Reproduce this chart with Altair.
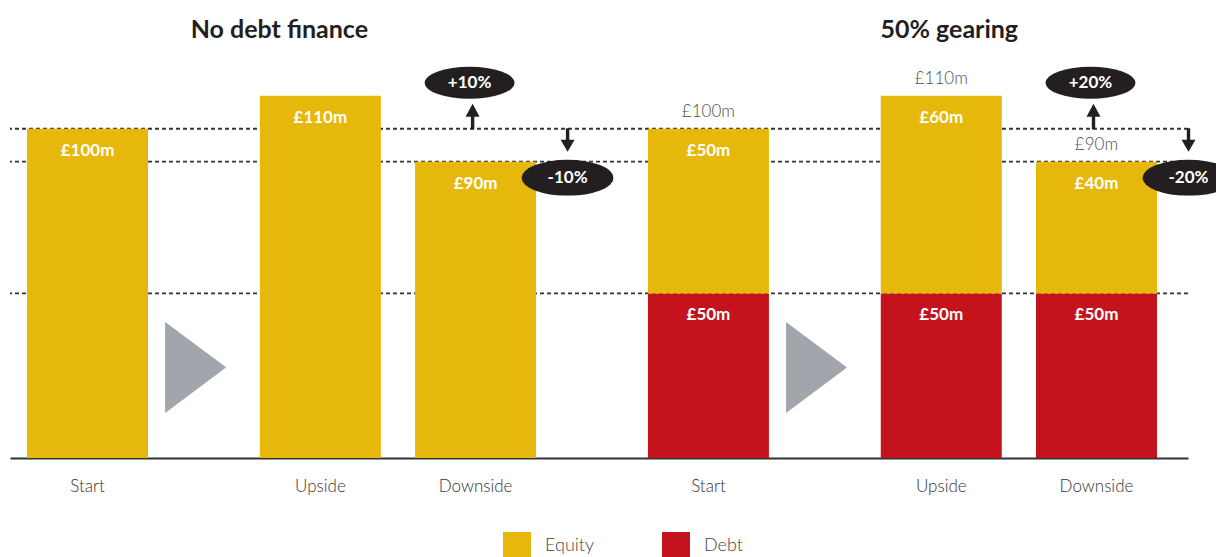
import base64
import altair as alt
import pandas as pd

# ---------------- data ----------------
groups = ["No debt finance", "50% gearing"]
scenarios = ["Start", "Upside", "Downside"]
equity_nodebt = [100, 110, 90]
debt_nodebt = [0, 0, 0]
equity_geared = [50, 60, 40]
debt_geared = [50, 50, 50]
components = ["Equity", "Debt"]
colors = ["#E5B80B", "#C4131C"]

# category slots along the x axis (gap slots hold the arrows / spacing)
slots = ["No debt finance|Start", "gap1", "gap2", "No debt finance|Upside", "gap3",
         "No debt finance|Downside", "gap4", "gap5", "50% gearing|Start", "gap6",
         "gap7", "50% gearing|Upside", "gap8", "50% gearing|Downside"]
arrow_slots = ["gap1", "gap6"]

series = {groups[0]: (equity_nodebt, debt_nodebt), groups[1]: (equity_geared, debt_geared)}

rows, totals, summary = [], [], []
for g in groups:
    eq, de = series[g]
    tot = [e + d for e, d in zip(eq, de)]
    for s, e, d, t in zip(scenarios, eq, de, tot):
        key = f"{g}|{s}"
        rows.append(dict(key=key, group=g, component="Debt", value=d, order=0, label=f"£{d}m"))
        rows.append(dict(key=key, group=g, component="Equity", value=e, order=1, label=f"£{e}m"))
        totals.append(dict(key=key, group=g, total=t, label=f"£{t}m", geared=int(de[0] > 0)))
    summary.append(dict(group=g, key=f"{g}|Downside", level=tot[0],
                        up=f"+{round((eq[1] - eq[0]) / eq[0] * 100)}%",
                        down=f"-{round((eq[0] - eq[2]) / eq[0] * 100)}%"))

df = pd.DataFrame(rows)
tot_df = pd.DataFrame(totals)
sum_df = pd.DataFrame(summary)
levels = sorted({int(tot_df.total[0]), int(tot_df.total[2]), debt_geared[0]})
lev_df = pd.DataFrame({"level": levels})
tri_df = pd.DataFrame({"key": arrow_slots})
title_df = pd.DataFrame({"key": [f"{g}|Upside" for g in groups], "group": groups})

FONT = "Lato"
DARK = "#231F20"


def svg_uri(svg):
    return "data:image/svg+xml;base64," + base64.b64encode(svg.encode("utf-8")).decode("ascii")


# decorative glyphs (arrows, bubbles, grey "play" triangle)
BADGE_W, BADGE_H = 276, 134
BADGE = svg_uri(
    f"<svg xmlns='http://www.w3.org/2000/svg' width='{BADGE_W}' height='{BADGE_H}' "
    f"viewBox='0 0 {BADGE_W} {BADGE_H}'><g fill='{DARK}' transform='translate(138,67)'>"
    "<ellipse cx='-6' cy='-46' rx='45' ry='16'/>"
    "<rect x='-4.7' y='-13' width='3.4' height='13.5'/>"
    "<polygon points='-10,-12 4,-12 -3,-25'/>"
    "<ellipse cx='92' cy='49' rx='46' ry='18'/>"
    "<rect x='90.3' y='-0.5' width='3.4' height='12.5'/>"
    "<polygon points='85,11 99,11 92,23'/>"
    "</g></svg>")
TRI_W, TRI_H = 61, 91
TRI = svg_uri(
    f"<svg xmlns='http://www.w3.org/2000/svg' width='{2 * TRI_W}' height='{TRI_H}' "
    f"viewBox='0 0 {2 * TRI_W} {TRI_H}'><polygon points='{TRI_W},0 {2 * TRI_W},{TRI_H / 2} "
    f"{TRI_W},{TRI_H}' fill='#A0A6AB'/></svg>")

xscale = alt.Scale(domain=slots, paddingInner=0, paddingOuter=0.589, align=0.4236, round=False)
X = alt.X("key:N", scale=xscale,
          axis=alt.Axis(title=None, ticks=False, grid=False, labelAngle=0, labelOverlap=False,
                        labelExpr="indexof(datum.value, '|') >= 0 ? split(datum.value, '|')[1] : ''",
                        domainColor="#333333", domainWidth=2, labelFontSize=17,
                        labelColor="#333333", labelFont=FONT, labelFontWeight=300,
                        labelPadding=20))
yscale = alt.Scale(domain=[0, 130], nice=False, zero=True)

rules = alt.Chart(lev_df).mark_rule(color="#333333", strokeDash=[4, 3], strokeWidth=1.8).encode(
    y=alt.Y("level:Q", scale=yscale, axis=None))

stacked = alt.Chart(df).transform_stack(
    stack="value", as_=["y0", "y1"], groupby=["key"],
    sort=[alt.SortField("order", order="ascending")])

bars = stacked.mark_bar(width=alt.RelativeBandSize(1.559)).encode(
    x=X,
    y=alt.Y("y0:Q", scale=yscale, axis=None),
    y2="y1:Q",
    color=alt.Color("component:N", scale=alt.Scale(domain=components, range=colors),
                    legend=alt.Legend(title=None, orient="none", legendX=493, legendY=502,
                                      direction="horizontal", symbolType="square",
                                      symbolSize=784, symbolStrokeWidth=0, symbolOpacity=1,
                                      labelFontSize=18, labelColor="#444444", labelFont=FONT,
                                      labelFontWeight=300, labelOffset=14, columnPadding=68,
                                      padding=0)),
)

bar_labels = stacked.transform_filter("datum.value > 0").mark_text(
    color="white", fontWeight="bold", fontSize=17, font=FONT, baseline="middle", dy=22).encode(
    x=X, y=alt.Y("y1:Q", scale=yscale, axis=None), text="label:N")

total_labels = alt.Chart(tot_df).transform_filter("datum.geared == 1").mark_text(
    color="#4D4D4D", fontSize=17, font=FONT, fontWeight=300, baseline="middle", dy=-17).encode(
    x=X, y=alt.Y("total:Q", scale=yscale, axis=None), text="label:N")

# grey "play" triangles sit in the gap slots
triangles = alt.Chart(tri_df).transform_calculate(ty="27.5").mark_image(
    width=2 * TRI_W, height=TRI_H, align="center", baseline="middle").encode(
    x=X, y=alt.Y("ty:Q", scale=yscale, axis=None), url=alt.value(TRI))

sbase = alt.Chart(sum_df)
Y_lev = alt.Y("level:Q", scale=yscale, axis=None)
badges = sbase.mark_image(width=BADGE_W, height=BADGE_H, align="center",
                          baseline="middle").encode(x=X, y=Y_lev, url=alt.value(BADGE))
up_txt = sbase.mark_text(color="white", fontWeight="bold", fontSize=17, font=FONT,
                         baseline="middle", dx=-6, dy=-46).encode(x=X, y=Y_lev, text="up:N")
down_txt = sbase.mark_text(color="white", fontWeight="bold", fontSize=17, font=FONT,
                           baseline="middle", dx=92, dy=49).encode(x=X, y=Y_lev, text="down:N")

tbase = alt.Chart(title_df)
title_l = tbase.transform_filter(alt.datum.group == groups[0]).mark_text(
    fontSize=25, fontWeight="bold", font=FONT, color=DARK, baseline="middle", dx=-41).encode(
    x=X, y=alt.datum(130), text="group:N")
title_r = tbase.transform_filter(alt.datum.group == groups[1]).mark_text(
    fontSize=25, fontWeight="bold", font=FONT, color=DARK, baseline="middle", dx=8).encode(
    x=X, y=alt.datum(130), text="group:N")

chart = alt.layer(
    rules, bars, bar_labels, total_labels, triangles, badges, up_txt, down_txt, title_l, title_r
).properties(
    width=1178, height=428,
    padding={"left": 2, "top": 22, "right": 28, "bottom": 99},
    autosize=alt.AutoSizeParams(type="none"),
    background="white",
).configure_view(stroke=None)

chart.save("out.html", embed_options={"renderer": "svg", "actions": False})
